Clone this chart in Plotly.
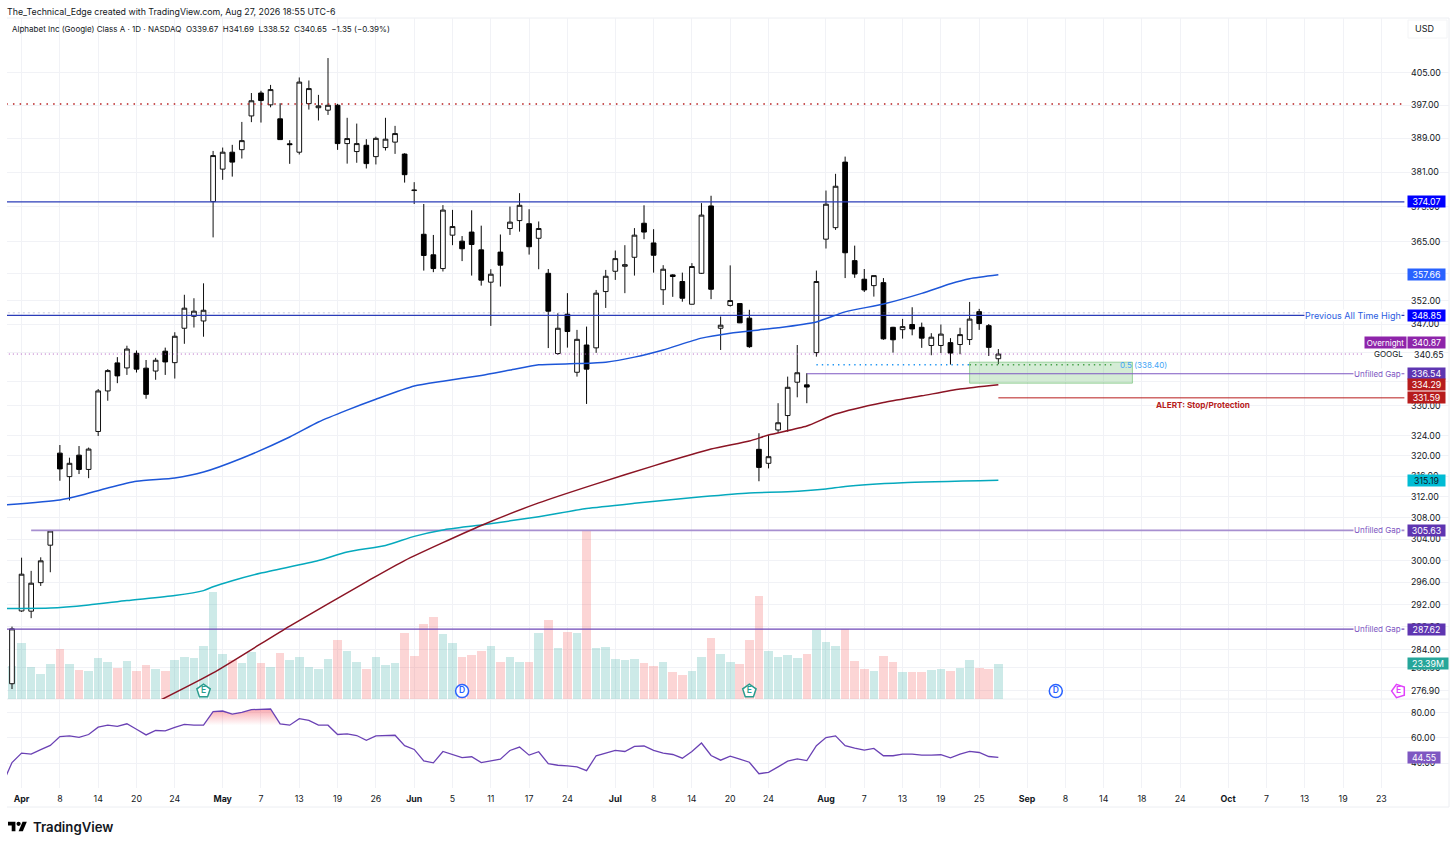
import math
import plotly.graph_objects as go

W, H = 1456, 847

bar_index = list(range(104))
opens = [278.1,290.84,290.8,295.95,302.85,320.5,315.9,320.1,317.3,324.8,333,338.8,337.75,340.8,337.7,337.1,341.25,338.85,346.1,348.65,347.65,
374.15,381.7,385.7,386.3,394.4,400,397.1,393.7,387.7,385.7,397.4,396.4,395.8,397,387.75,385.85,387.35,384.65,386.8,388.1,385.25,376.7,
366.7,362.1,359.05,366.5,365.15,367.2,363.2,356.05,362.7,368,369.8,369.1,365.8,358,340.75,349.1,336.85,342.55,341.95,354,358.45,359.55,361.55,369.2,364.75,354.4,357.65,356.2,351.25,358,373.15,346.1,351,351.4,348.25,
321.25,318.5,325.1,328,334.8,334.25,340.95,365.6,368.2,383.35,360.8,356.7,355.3,355.95,346.3,345.8,346.9,346.3,342.45,342.45,343.05,342.65,343.7,349.65,346.65,339.67]
highs = [288.05,300.53,298.1,300.6,305.7,322.1,319.6,321.9,321.6,333.4,337.5,340,342.4,341.4,339.4,339.85,342,345.25,353.3,352.55,355.8,
386,386.8,387.45,392.95,400,400.55,402,397.5,388.55,403.85,403.1,399.55,408.7,397.35,393.95,392.55,388.8,389.4,393.95,392,385.45,378.65,
373.6,366.55,373.35,372.25,366.3,372.15,368.65,358.9,366.65,373,376.1,372.4,369.6,358.95,349.3,353.65,345.75,346.45,354.35,358.75,363.05,364.25,368.1,373.3,367.85,359.8,357.8,358.15,360.25,373.8,375.5,348.6,359.75,351.5,350.05,
324.45,324.1,330.5,335.95,342.55,336.65,358.6,376.7,380.6,384.65,364.15,358.95,357.5,356.95,346.4,348.1,350.6,347.3,345.05,346.9,344,346.2,351.75,350.25,347,341.69]
lows = [277.2,290.67,289.55,295.35,297.85,315.1,311.3,316.4,315.6,323.9,331,334.6,336.3,336.8,331.4,335.3,336.3,335.55,342.8,346.25,344.3,
366,379.2,379.95,384.2,392.9,392.8,396.5,388.7,382.95,385.15,395.95,393.3,394.65,386.25,383,383.2,381.85,382.8,386.1,385.3,378.55,373.6,
358.6,358.25,358.4,364.25,360.7,357.5,355.3,346.6,355.1,366.55,367.3,362.15,358.9,341.9,340.45,342,335.95,330.35,340.9,350.45,356.55,353.65,357.5,365.6,358.15,351.1,352.85,351.8,351.2,357.85,352.35,341.5,350.75,347.2,341.95,
315,317.5,324.55,324.75,331.7,330.5,340.1,363.5,367.7,356.95,357,353.9,352.9,343.65,340.95,343.9,344.6,341.95,340.4,340.85,338.45,340.6,342.55,345.75,340.25,338.52]
closes = [287.65,297.49,295.85,299.95,305.5,317.4,318.5,317.3,321.3,333,337.2,336.1,341.7,337.5,332.3,339.35,339,344.4,350.4,349.75,349.95,
384.9,385.7,383.35,388.45,398.1,398.15,400.85,388.7,387.5,402.7,401.1,396.85,397,387.75,388.95,387.75,383,389,388.8,390.15,380.4,376.8,
361.95,359.05,372.2,368.45,363.45,364.4,356.5,357.8,359.8,369.45,373.3,363.9,368,349.75,346.1,345.4,343.75,337.5,353.65,357.35,361.25,359.9,366.5,367.2,362,358.9,357.3,352.55,359.5,371.05,354.5,346.75,352.05,347.25,342.2,
317.7,319.8,326.55,333.75,336.75,333.8,356.2,373.55,377.7,362.55,357.85,354.35,357.5,343.85,343.65,346.45,345.95,344,344.2,344.85,340.85,344.75,348.05,347.1,342.05,340.65]

volume_m = [22,37.4,21.4,16.9,23.4,33.6,23.6,19.2,18.9,27.6,24.7,20.7,25.4,18.7,22.9,20.3,18.9,26.3,28.3,27.6,35.4,71.5,30.1,26.3,24.1,31.4,24.3,21.4,30.5,26.1,28.1,21.2,20.3,26.7,39.4,31.8,24.9,20.3,27.8,22.9,24.3,44.3,29,50.1,55,43.6,37.4,28.1,29.6,32.3,35.4,24.5,27.8,24.9,24.7,44.3,52.6,34.1,45,44.3,113.1,34.1,35,26.7,26.1,26.7,23.8,22.3,24.5,18.3,15.8,18.5,28.3,41,30.1,24.7,23.4,39.2,69,31.8,28.3,29.6,27.6,30.3,45.9,38.3,35.6,46.8,25.4,20.3,18.9,29,24.9,18,18,18.3,19.2,20,18.5,20.7,26.3,20.7,20.3,23.39]
volume_up = [1,1,1,1,1,0,1,0,1,1,1,0,1,0,0,1,0,1,1,1,1,1,1,0,1,1,0,1,0,1,1,1,1,1,0,1,1,0,1,1,1,0,0,0,0,1,1,0,0,0,1,0,1,1,0,1,0,1,0,1,0,1,1,1,1,1,0,0,1,0,0,1,1,0,1,1,0,0,0,1,1,1,1,0,1,1,1,0,0,0,1,0,0,1,0,0,1,1,0,1,1,0,0,1]

rsi_index = list(range(-1, 104))
rsi_values = [23.5,40.5,48,47.2,50.7,54.1,61.1,61.6,60.5,62.7,68.5,70.1,69.1,71.2,66.9,62.4,65.9,65.6,68.3,70.7,70.1,70.1,80.8,81.3,78.9,80.3,82.4,82.4,82.9,71.2,70.1,75.2,73.9,70.1,70.1,62.7,63.2,61.9,58.1,61.6,61.6,62.1,53.9,50.9,41.9,40.3,49.3,47.2,44.5,45.1,40.5,41.9,43.2,50.1,52.8,46.4,49.1,39.7,38.4,37.9,37.1,34.1,45.9,48,50.1,49.3,53.3,53.6,50.1,48,46.9,44,49.3,56,46.1,42.4,45.6,43.2,40.8,31.7,32.8,37.1,41.6,43.5,42.1,53.9,60.3,61.6,53.9,52,50.4,51.7,45.9,45.9,47.2,47.2,46.4,46.4,46.7,44.3,47.2,49.3,48.5,45.3,44.55]
rsi_hot_index = [20,21,22,23,24,25,26,27,28,29]
rsi_hot_values = [70.1,80.8,81.3,78.9,80.3,82.4,82.4,82.9,71.2,70.1]

blue_index = [-1,5,7,10,13,17,20,24,29,32,35,38,42,45,49,52,55,59,62,65,68,72,75,78,80,84,87,91,95,98,100,103]
blue_values = [310.4,311.4,312.2,313.7,315,315.65,316.8,319.5,323.7,326.7,329.1,331.3,334,335,336.2,337.3,338.4,338.65,338.95,340,341.5,344,345.05,345.75,346.2,347.45,349.6,351.3,353.6,355.7,356.8,357.66]
teal_index = [-1,4,8,12,17,20,21,23,26,32,35,39,42,45,49,55,60,65,72,77,81,85,87,93,103]
teal_values = [291.3,291.35,291.9,292.7,293.6,294.5,295.2,296.3,297.7,300,301.6,302.8,304.5,305.7,306.65,308.2,309.75,310.75,312,312.75,312.95,313.5,314,314.7,315.19]
red_index = [15,21,29,37,41,49,55,61,67,73,77,79,83,86,91,95,99,103]
red_values = [274.9,279.96,288.15,296.1,300,306.55,310.83,314.5,318,321.3,322.9,324.1,325.9,328.3,330.65,332,333.4,334.29]

price_ticks = [405,397,389,381,373,365,358,352,347,341,335,330,324,320,316,312,308,304,300,296,292,288,284,280.9,276.9]
price_tick_text = ["405.00","397.00","389.00","381.00","373.00","365.00","358.00","352.00","347.00","","","330.00","324.00","320.00","316.00","312.00","308.00","304.00","300.00","296.00","292.00","288.00","284.00","280.90","276.90"]
rsi_ticks = [80,60,40]
rsi_tick_text = ["80.00","60.00","40.00"]
time_ticks = [1,5,9,13,17,22,26,30,34,38,42,46,50,54,58,63,67,71,75,79,85,89,93,97,101,106,110,114,118,122,127,131,135,139,143]
time_labels = ["<b>Apr</b>","8","14","20","24","<b>May</b>","7","13","19","26","<b>Jun</b>","5","11","17","24","<b>Jul</b>","8","14","20","24","<b>Aug</b>","7","13","19","25","<b>Sep</b>","8","14","18","24","<b>Oct</b>","7","13","19","23"]

# Axis windows
X_RANGE = [-0.522, 150.06]
PRICE_RANGE = [418.9, 275.5]
VOL_MAX = 454.9
RSI_RANGE = [20.4, 90.8]

FONT = "Inter"
GRID = "#f1f2f6"
TICK_SIZE = 8.8

def fx(px): return px / W
def fy(py): return 1 - py / H

fig = go.Figure()

fig.add_bar(x=bar_index, y=volume_m, width=0.9, xaxis="x", yaxis="y",
            marker=dict(color=["rgba(38,166,154,0.23)" if u else "rgba(242,80,80,0.24)" for u in volume_up], line_width=0),
            hoverinfo="skip")

def event(x, y, symbol, color, text, angle=0, size=14):
    fig.add_scatter(x=[x], y=[y], mode="markers+text", text=[text], textposition="middle center",
                    textfont=dict(family=FONT, size=8.5, color=color, weight=600), xaxis="x", yaxis="y",
                    marker=dict(symbol=symbol, size=size, angle=angle, color="white", line=dict(color=color, width=1.5)),
                    hoverinfo="skip")
EVENT_VOL = 5.3
event(20, EVENT_VOL, "pentagon", "#2a9d8f", "E")
event(77, EVENT_VOL, "pentagon", "#2a9d8f", "E")
event(47, EVENT_VOL, "circle", "#2962ff", "D", size=13)
event(109, EVENT_VOL, "circle", "#2962ff", "D", size=13)
event(144.8, EVENT_VOL, "pentagon", "#e040fb", "E", angle=-90)

def hline(x0, x1, value, color, width=1, dash="solid"):
    fig.add_scatter(x=[x0, x1], y=[value, value], mode="lines", xaxis="x", yaxis="y2",
                    line=dict(color=color, width=width, dash=dash), hoverinfo="skip")

LEFT, RIGHT = -2, 145.4
ZONE_X = [100, 117, 117, 100, 100]
ZONE_Y = [338.95, 338.95, 334.6, 334.6, 338.95]
fig.add_scatter(x=ZONE_X, y=ZONE_Y, mode="lines", fill="toself", fillcolor="rgba(76,175,80,0.24)", xaxis="x", yaxis="y2",
                line=dict(color="rgba(76,175,80,0.5)", width=1), hoverinfo="skip")

hline(LEFT, RIGHT, 397.3, "#b71c1c", 1.5, "1.5px,5.2px")
hline(LEFT, RIGHT, 374.07, "#2b3cb8", 1.2)
hline(LEFT, RIGHT, 349.4, "rgba(120,120,180,0.4)", 1, "2px,3px")
hline(LEFT, RIGHT, 348.85, "#2b3cb8", 1.2)
hline(LEFT, 141, 340.65, "#b05cc0", 1, "1px,3px")
hline(2, RIGHT, 305.63, "#a78fd0", 1.6)
hline(LEFT, RIGHT, 287.62, "#6f48b8", 1.2)
hline(83, RIGHT, 336.54, "#7e57c2", 1)
hline(103, RIGHT, 331.59, "#b71c1c", 1)
hline(84, 100, 338.40, "#2196f3", 1.4, "1.4px,4px")
hline(100, 115, 338.40, "#43a047", 1.4, "1.4px,4px")

fig.add_scatter(x=teal_index, y=teal_values, mode="lines", line=dict(color="#05a9bd", width=1.5, shape="spline", smoothing=0.6), xaxis="x", yaxis="y2", hoverinfo="skip")
fig.add_scatter(x=red_index, y=red_values, mode="lines", line=dict(color="#8b1424", width=1.5, shape="spline", smoothing=0.6), xaxis="x", yaxis="y2", hoverinfo="skip")
fig.add_scatter(x=blue_index, y=blue_values, mode="lines", line=dict(color="#1d56d8", width=1.5, shape="spline", smoothing=0.6), xaxis="x", yaxis="y2", hoverinfo="skip")

fig.add_candlestick(x=bar_index, open=opens, high=highs, low=lows, close=closes, xaxis="x", yaxis="y2",
                    increasing=dict(line=dict(color="#111111", width=1), fillcolor="#ffffff"),
                    decreasing=dict(line=dict(color="#000000", width=1), fillcolor="#000000"),
                    whiskerwidth=0, hoverinfo="skip")

RSI_LEVEL = 70
fig.add_scatter(x=rsi_hot_index, y=[RSI_LEVEL] * len(rsi_hot_index), mode="lines", line=dict(color="rgba(0,0,0,0)", width=0),
                xaxis="x", yaxis="y3", hoverinfo="skip")
fig.add_scatter(x=rsi_hot_index, y=rsi_hot_values, mode="lines", line=dict(color="rgba(0,0,0,0)", width=0), fill="tonexty",
                fillgradient=dict(type="vertical", colorscale=[[0, "rgba(242,54,69,0)"], [1, "rgba(242,54,69,0.42)"]]),
                xaxis="x", yaxis="y3", hoverinfo="skip")
fig.add_scatter(x=rsi_index, y=rsi_values, mode="lines", line=dict(color="#6a41b4", width=1.3), xaxis="x", yaxis="y3", hoverinfo="skip")

ann = []
def note(text, x, y, xanchor="center", yref="paper", color="#131722", size=TICK_SIZE, bg=None, width=None, height=None, weight=None):
    font = dict(family=FONT, size=size, color=color)
    if weight: font["weight"] = weight
    a = dict(text=text, xref="paper", yref=yref, x=fx(x), y=y, xanchor=xanchor, yanchor="middle", showarrow=False,
             font=font, borderpad=0, align="center")
    if bg: a["bgcolor"] = bg
    if width: a["width"] = width
    if height: a["height"] = height
    ann.append(a)

def price_y(v): return math.log10(v)

def badge(text, value, bg, fg="white", x0=1407, x1=1444, size=TICK_SIZE):
    note(text, x0, price_y(value), xanchor="left", yref="y2", color=fg, bg=bg, width=x1 - x0, height=11, size=size)

badge("357.66", 357.66, "#2962ff")
badge("374.07", 374.07, "#0000ff")
badge("348.85", 348.85, "#0000ff")
badge("336.54", 336.54, "#5e35b1")
badge("334.29", 334.29, "#b71c1c")
badge("331.59", 331.59, "#b71c1c")
badge("315.19", 315.19, "#00bcd4", fg="#131722")
badge("305.63", 305.63, "#5e35b1")
badge("287.62", 287.62, "#5e35b1")
OVERNIGHT_Y = 343.0
badge("340.87", OVERNIGHT_Y, "#8e24aa")
badge("Overnight", OVERNIGHT_Y, "#8e24aa", x0=1364, x1=1405, size=8)
note("340.65", 1412.5, price_y(340.65), xanchor="left", yref="y2")
note("GOOGL", 1404, price_y(340.65), xanchor="right", yref="y2", size=8)
note("23.39M", 1407, 23.39, xanchor="left", yref="y", color="white", bg="#26a69a", width=40, height=11)
note("44.55", 1407, 44.55, xanchor="left", yref="y3", color="white", bg="#7e57c2", width=32, height=11)

note("Previous All Time High", 1402, price_y(348.85), xanchor="right", yref="y2", color="#2a5ce0", size=9, bg="white")
note("Unfilled Gap", 1402, price_y(336.54), xanchor="right", yref="y2", color="#7e57c2", size=8, bg="white")
note("Unfilled Gap", 1402, price_y(305.63), xanchor="right", yref="y2", color="#7e57c2", size=8, bg="white")
note("Unfilled Gap", 1402, price_y(287.62), xanchor="right", yref="y2", color="#7e57c2", size=8, bg="white")
note("ALERT: Stop/Protection", 1203, price_y(330.05), yref="y2", color="#b71c1c", weight=700, size=8.2)
note("0.5 (338.40)", 1143.5, price_y(338.40), yref="y2", color="#42a5f5", size=8)

note("The_Technical_Edge created with TradingView.com, Aug 27, 2026 18:55 UTC-6", 5.5, fy(11), xanchor="left")
note("Alphabet Inc (Google) Class A · 1D · NASDAQ&nbsp;&nbsp;O339.67&nbsp;&nbsp;H341.69&nbsp;&nbsp;L338.52&nbsp;&nbsp;C340.65&nbsp;&nbsp;−1.35 (−0.39%)", 11, fy(29), xanchor="left", size=8)
note("USD", 1424, fy(29), size=9)
note("TradingView", 32, fy(827), xanchor="left", size=13.2, weight=600)

LOGO_S, LOGO_X, LOGO_Y = 0.53, 8, 819.6
def lp(pts):
    return "M" + " L".join(f"{fx(LOGO_X + a * LOGO_S):.5f},{fy(LOGO_Y + b * LOGO_S):.5f}" for a, b in pts) + " Z"
shapes = [
    dict(type="path", xref="paper", yref="paper", path=lp([(0,4),(14,4),(14,22),(7,22),(7,11),(0,11)]), fillcolor="#000", line_width=0),
    dict(type="path", xref="paper", yref="paper", path=lp([(27.5,4),(35.5,4),(28,22),(20,22)]), fillcolor="#000", line_width=0),
    dict(type="circle", xref="paper", yref="paper", x0=fx(LOGO_X + 16 * LOGO_S), x1=fx(LOGO_X + 24 * LOGO_S),
         y0=fy(LOGO_Y + 4 * LOGO_S), y1=fy(LOGO_Y + 12 * LOGO_S), fillcolor="#000", line_width=0),
]
BORDER = "#eceef2"
for x0, y0, x1, y1 in [(7, 699, 1449, 699), (1449, 18, 1449, 807), (7, 807, 1449, 807), (7, 18, 1449, 18)]:
    shapes.append(dict(type="line", xref="paper", yref="paper", x0=fx(x0), x1=fx(x1), y0=fy(y0), y1=fy(y1),
                       line=dict(color=BORDER, width=1), layer="below"))
shapes.append(dict(type="rect", xref="paper", yref="paper", x0=fx(1408), x1=fx(1447), y0=fy(20), y1=fy(38),
                   line=dict(color="#f3f4f6", width=1), layer="below"))

main_domain = [fy(699), fy(18)]
rsi_domain = [fy(788), fy(699)]
tick_font = dict(family=FONT, size=TICK_SIZE, color="#131722")

fig.update_layout(
    width=W, height=H, autosize=False, showlegend=False, paper_bgcolor="white", plot_bgcolor="white",
    margin=dict(l=0, r=0, t=0, b=0), bargap=0, hovermode=False, annotations=ann, shapes=shapes,
    xaxis=dict(domain=[fx(7), fx(1449)], range=X_RANGE, type="linear", anchor="y3", tickmode="array", tickvals=time_ticks,
               ticktext=time_labels, showgrid=True, gridcolor=GRID, gridwidth=1, zeroline=False, showline=False,
               ticks="outside", ticklen=2, tickcolor="rgba(0,0,0,0)", tickfont=tick_font, rangeslider=dict(visible=False), tickangle=0),
    yaxis=dict(domain=main_domain, range=[0, VOL_MAX], visible=False, fixedrange=True),
    yaxis2=dict(domain=main_domain, overlaying="y", type="log", range=[math.log10(PRICE_RANGE[1]), math.log10(PRICE_RANGE[0])],
                side="right", anchor="free", position=fx(1410), tickmode="array", tickvals=price_ticks, ticktext=price_tick_text,
                showgrid=True, gridcolor=GRID, zeroline=False, showline=False, ticks="", tickfont=tick_font),
    yaxis3=dict(domain=rsi_domain, range=RSI_RANGE, side="right", anchor="free", position=fx(1410), tickmode="array",
                tickvals=rsi_ticks, ticktext=rsi_tick_text, showgrid=True, gridcolor=GRID, zeroline=False, showline=False,
                ticks="", tickfont=tick_font),
)

fig.write_html("out.html", config=dict(displayModeBar=False),
               post_script="document.body.style.margin='0';document.body.style.overflow='hidden';")
